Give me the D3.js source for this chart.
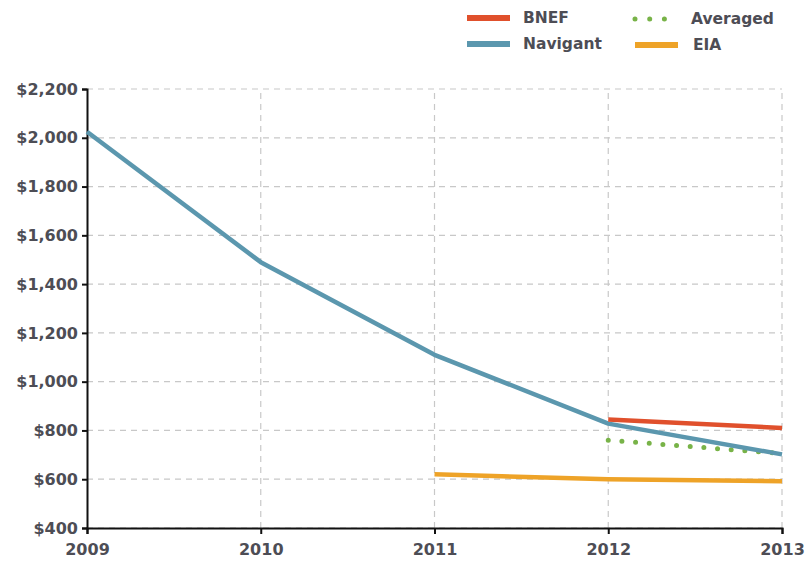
<!DOCTYPE html>
<html>
<head>
<meta charset="utf-8">
<script src="https://cdn.jsdelivr.net/npm/d3@7"></script>
<style>
  body { margin: 0; background: #fff; }
  text { font-family: "DejaVu Sans", sans-serif; font-weight: 700; fill: #4d4d55; }
</style>
</head>
<body>
<div id="chart"></div>
<script>
const years = [2009, 2010, 2011, 2012, 2013];
const yTicks = [400, 600, 800, 1000, 1200, 1400, 1600, 1800, 2000, 2200];
const navigant = [[2009, 2025], [2010, 1490], [2011, 1110], [2012, 828], [2013, 702]];
const bnef = [[2012, 845], [2013, 810]];
const averaged = [[2012, 760], [2013, 705]];
const eia = [[2011, 620], [2012, 600], [2013, 592]];
const legendItems = ["BNEF", "Navigant", "Averaged", "EIA"];

const width = 809, height = 564;
const margin = {left: 87, right: 27, top: 89, bottom: 36};

const svg = d3.select("#chart").append("svg")
    .attr("width", width)
    .attr("height", height);

const x = d3.scaleLinear().domain([2009, 2013]).range([margin.left, width - margin.right]);
const y = d3.scaleLinear().domain([400, 2200]).range([height - margin.bottom, margin.top]);

// grid
svg.append("g").selectAll("line.h")
    .data(yTicks)
    .enter().append("line")
    .attr("x1", x(2009)).attr("x2", x(2013))
    .attr("y1", d => y(d)).attr("y2", d => y(d))
    .attr("stroke", "#c8c8c8")
    .attr("stroke-width", 1.2)
    .attr("stroke-dasharray", "6,5");
svg.append("g").selectAll("line.v")
    .data(years.slice(1))
    .enter().append("line")
    .attr("x1", d => x(d)).attr("x2", d => x(d))
    .attr("y1", y(400)).attr("y2", y(2200))
    .attr("stroke", "#c8c8c8")
    .attr("stroke-width", 1.2)
    .attr("stroke-dasharray", "6,5");

// axes
const xAxis = svg.append("g")
    .attr("transform", `translate(0,${y(400)})`)
    .call(d3.axisBottom(x).tickValues(years).tickFormat(d3.format("d")).tickSize(6).tickPadding(10));
const yAxis = svg.append("g")
    .attr("transform", `translate(${x(2009)},0)`)
    .call(d3.axisLeft(y).tickValues(yTicks).tickFormat(d => "$" + d3.format(",")(d)).tickSize(5).tickPadding(4));
[xAxis, yAxis].forEach(a => {
    a.select(".domain").attr("stroke", "#111").attr("stroke-width", 2);
    a.selectAll(".tick line").attr("stroke", "#111").attr("stroke-width", 2);
    a.selectAll("text").attr("font-size", 16).attr("fill", "#4d4d55")
        .attr("font-family", "DejaVu Sans").attr("font-weight", 700);
});

const line = d3.line()
    .x(d => x(d[0]))
    .y(d => y(d[1]));

const series = [
    {name: "EIA", data: eia, color: "#eea328", dash: null},
    {name: "Averaged", data: averaged, color: "#78b348", dash: "0,13.7"},
    {name: "Navigant", data: navigant, color: "#5b97ae", dash: null},
    {name: "BNEF", data: bnef, color: "#e0502c", dash: null}
];

series.forEach(s => {
    svg.append("path")
        .datum(s.data)
        .attr("fill", "none")
        .attr("stroke", s.color)
        .attr("stroke-width", s.dash ? 5 : 4.5)
        .attr("stroke-linecap", s.dash ? "round" : "butt")
        .attr("stroke-linejoin", "round")
        .attr("stroke-dasharray", s.dash)
        .attr("d", line);
});

// legend
const legendPos = {
    BNEF: [467, 18], Navigant: [467, 44], Averaged: [633, 19], EIA: [635, 45]
};
legendItems.forEach(name => {
    const s = series.find(d => d.name === name);
    const [lx, ly] = legendPos[name];
    svg.append("line")
        .attr("x1", lx + (s.dash ? 2 : 0)).attr("x2", lx + 43)
        .attr("y1", ly).attr("y2", ly)
        .attr("stroke", s.color)
        .attr("stroke-width", s.dash ? 5 : 6)
        .attr("stroke-linecap", s.dash ? "round" : "butt")
        .attr("stroke-dasharray", s.dash ? "0,14.7" : null);
    svg.append("text")
        .attr("x", lx + (name === "Averaged" || name === "EIA" ? 58 : 56))
        .attr("y", ly + 5)
        .attr("font-size", 15.5)
        .text(name);
});
</script>
</body>
</html>
